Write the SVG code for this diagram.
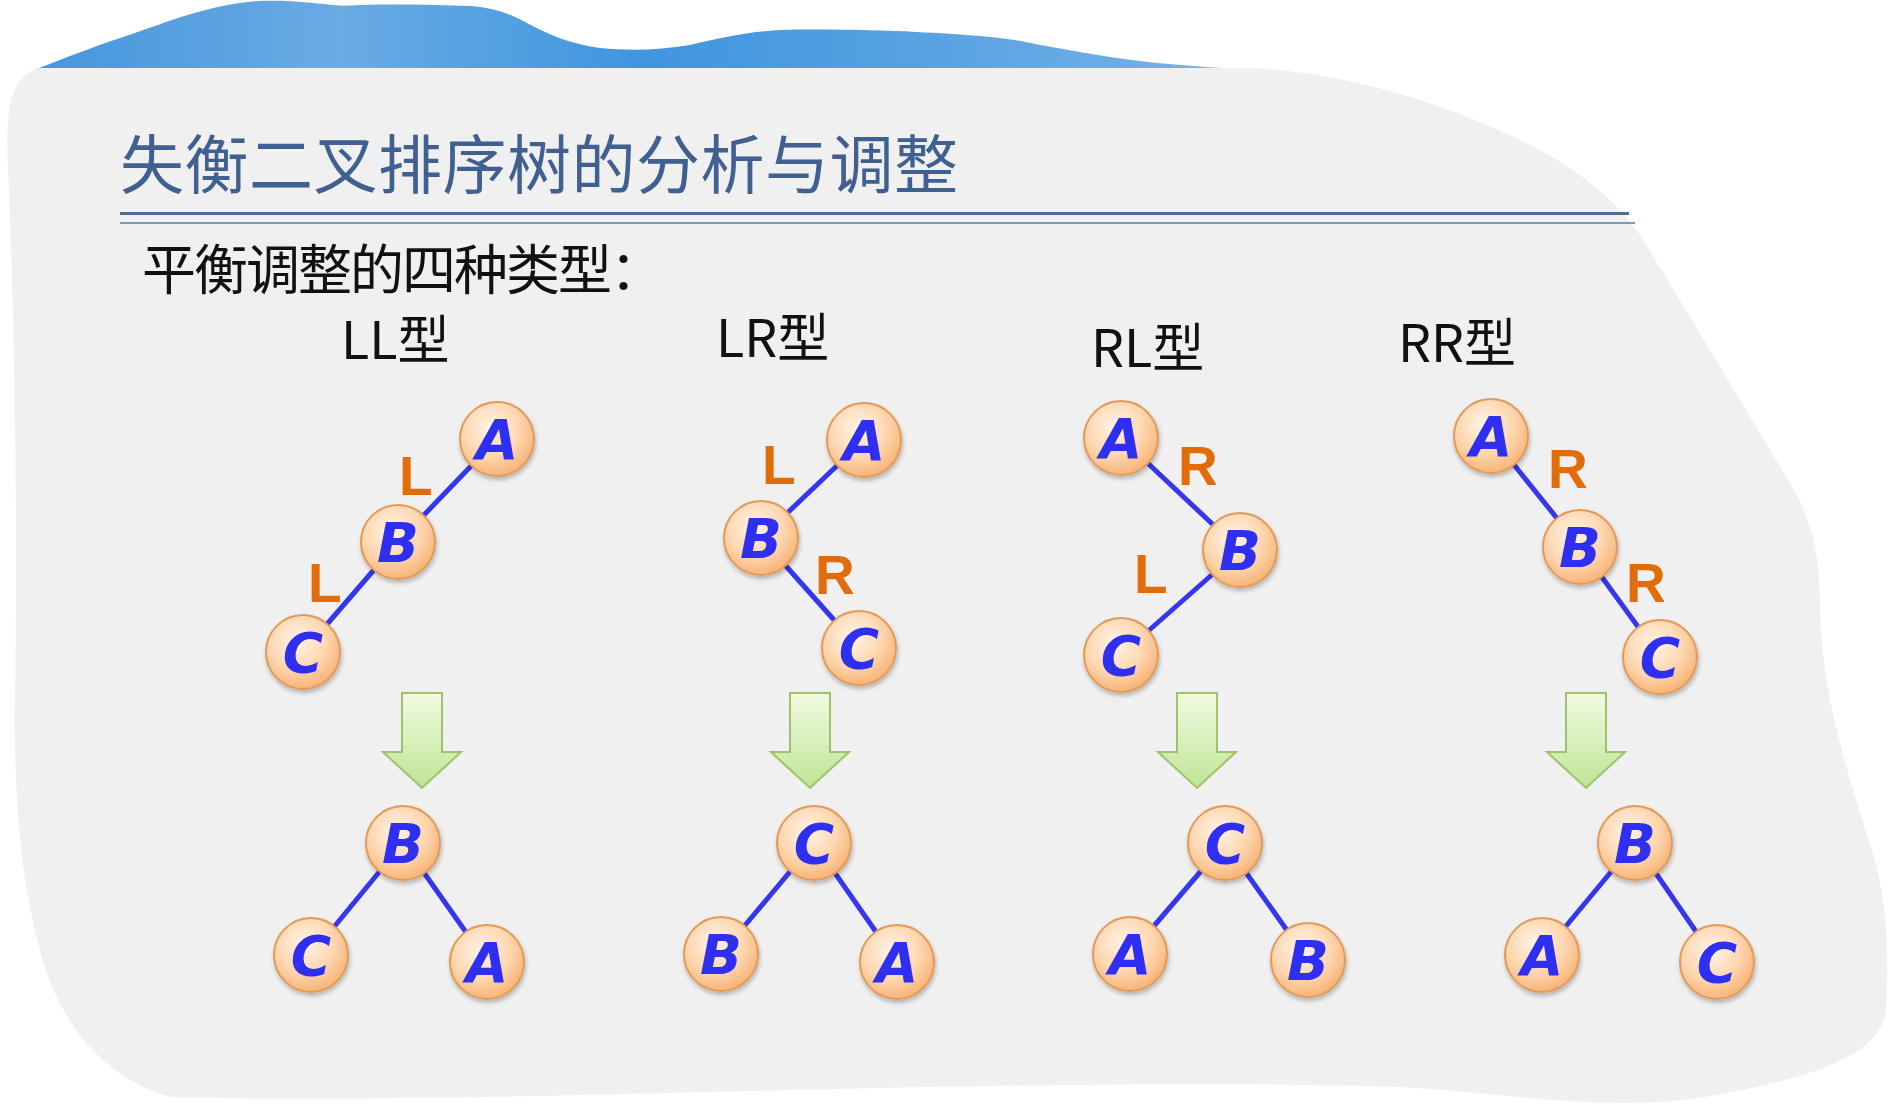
<svg xmlns="http://www.w3.org/2000/svg" width="1889" height="1110" viewBox="0 0 1889 1110">
<defs>
<linearGradient id="wave" x1="0" y1="0" x2="1" y2="0">
<stop offset="0" stop-color="#4595de"/>
<stop offset="0.25" stop-color="#6aabe3"/>
<stop offset="0.5" stop-color="#3f95df"/>
<stop offset="0.75" stop-color="#5aa3e2"/>
<stop offset="1" stop-color="#7ab5e8"/>
</linearGradient>
<radialGradient id="ball" cx="0.42" cy="0.35" r="0.7">
<stop offset="0" stop-color="#fff4e8"/>
<stop offset="0.55" stop-color="#fdd7b0"/>
<stop offset="1" stop-color="#f7ae6e"/>
</radialGradient>
<linearGradient id="green" x1="0" y1="0" x2="0" y2="1">
<stop offset="0" stop-color="#f2fbe2"/>
<stop offset="1" stop-color="#bfe494"/>
</linearGradient>
<filter id="sh" x="-30%" y="-30%" width="160%" height="160%">
<feDropShadow dx="1" dy="3" stdDeviation="2" flood-color="#000" flood-opacity="0.25"/>
</filter>
<path id="arrow" d="M-20,0 h40 v59 h19 L0,95 L-39,59 h19 Z"/>
<style>
.node circle{fill:url(#ball);stroke:#e39a58;stroke-width:2;filter:url(#sh)}
.node text{font-family:"DejaVu Sans","Liberation Sans",sans-serif;font-weight:bold;font-style:italic;font-size:55px;fill:#2f2ff2;text-anchor:middle}
.edge{stroke:#3636ee;stroke-width:5;stroke-linecap:round}
.elabel{font-family:"Liberation Sans",Arial,sans-serif;font-weight:bold;font-size:55px;fill:#e36c0a}
.head{font-family:"Noto Sans CJK SC","Liberation Sans",sans-serif;font-size:52px;fill:#111}
.down{fill:url(#green);stroke:#9dc46b;stroke-width:2}
</style>
</defs>
<rect width="1889" height="1110" fill="#ffffff"/>
<path d="M34,70 C60,60 90,48 120,38 C150,28 165,22 181,17 C210,8 235,2 260,1 C285,0 300,2 325,4 C340,6 345,6 360,5 C400,4 440,5 470,6 C495,8 510,14 525,22 C550,35 570,44 600,48 C630,51 660,50 690,45 C720,38 745,32 780,30 C820,29 880,30 916,32 C980,35 1010,38 1040,45 C1080,52 1110,58 1157,63 C1190,66 1220,68 1255,70 Z" fill="url(#wave)"/>
<path d="M40,68 L1250,68 C1340,72 1440,100 1530,145 C1580,170 1615,200 1640,235 C1680,300 1740,400 1790,483 C1815,525 1820,560 1820,610 C1822,700 1850,780 1872,850 C1888,900 1889,960 1886,1010 C1880,1060 1800,1080 1700,1098 C1600,1112 1500,1092 1400,1087 C1000,1075 500,1106 170,1097 C110,1080 60,1030 40,950 C18,870 14,780 15,700 C18,500 14,300 8,170 C5,110 10,75 40,68 Z" fill="#f0f0f0"/>
<g id="title">
<text x="120" y="188" font-family="'Noto Sans CJK SC','Liberation Sans',sans-serif" font-size="64" fill="#3f6090" textLength="838" lengthAdjust="spacing">失衡二叉排序树的分析与调整</text>
<line x1="120" y1="213.5" x2="1629" y2="213.5" stroke="#4d6d98" stroke-width="3"/>
<line x1="120" y1="223" x2="1635" y2="223" stroke="#7d97b8" stroke-width="2"/>
</g>
<text id="subtitle" x="142" y="290" font-family="'Noto Sans CJK SC','Liberation Sans',sans-serif" font-size="54" fill="#111" textLength="522" lengthAdjust="spacing">平衡调整的四种类型：</text>
<g id="headings">
<text class="head" x="341" y="359">LL型</text>
<text class="head" x="716" y="357">LR型</text>
<text class="head" x="1091" y="367">RL型</text>
<text class="head" x="1398" y="362">RR型</text>
</g>
<g id="arrows">
<use href="#arrow" class="down" x="422" y="693"/>
<use href="#arrow" class="down" x="810" y="693"/>
<use href="#arrow" class="down" x="1197" y="693"/>
<use href="#arrow" class="down" x="1586" y="693"/>
</g>
<g id="connectors">
<line class="edge" x1="497" y1="439" x2="398" y2="542"/>
<line class="edge" x1="398" y1="542" x2="303" y2="652"/>
<line class="edge" x1="864" y1="440" x2="761" y2="538"/>
<line class="edge" x1="761" y1="538" x2="859" y2="648"/>
<line class="edge" x1="1121" y1="438" x2="1240" y2="550"/>
<line class="edge" x1="1240" y1="550" x2="1121" y2="655"/>
<line class="edge" x1="1491" y1="436" x2="1580" y2="547"/>
<line class="edge" x1="1580" y1="547" x2="1660" y2="657"/>
<line class="edge" x1="403" y1="843" x2="311" y2="955"/>
<line class="edge" x1="403" y1="843" x2="487" y2="962"/>
<line class="edge" x1="814" y1="843" x2="721" y2="954"/>
<line class="edge" x1="814" y1="843" x2="897" y2="962"/>
<line class="edge" x1="1225" y1="843" x2="1130" y2="954"/>
<line class="edge" x1="1225" y1="843" x2="1308" y2="960"/>
<line class="edge" x1="1635" y1="843" x2="1542" y2="955"/>
<line class="edge" x1="1635" y1="843" x2="1717" y2="962"/>
<text class="elabel" x="399" y="495">L</text>
<text class="elabel" x="308" y="602">L</text>
<text class="elabel" x="762" y="484">L</text>
<text class="elabel" x="815" y="594">R</text>
<text class="elabel" x="1178" y="485">R</text>
<text class="elabel" x="1134" y="593">L</text>
<text class="elabel" x="1548" y="488">R</text>
<text class="elabel" x="1626" y="602">R</text>
</g>
<g id="ll-A" class="node"><circle cx="497" cy="439" r="37"/><text x="497" y="459">A</text></g>
<g id="ll-B" class="node"><circle cx="398" cy="542" r="37"/><text x="398" y="562">B</text></g>
<g id="ll-C" class="node"><circle cx="303" cy="652" r="37"/><text x="303" y="672">C</text></g>
<g id="lr-A" class="node"><circle cx="864" cy="440" r="37"/><text x="864" y="460">A</text></g>
<g id="lr-B" class="node"><circle cx="761" cy="538" r="37"/><text x="761" y="558">B</text></g>
<g id="lr-C" class="node"><circle cx="859" cy="648" r="37"/><text x="859" y="668">C</text></g>
<g id="rl-A" class="node"><circle cx="1121" cy="438" r="37"/><text x="1121" y="458">A</text></g>
<g id="rl-B" class="node"><circle cx="1240" cy="550" r="37"/><text x="1240" y="570">B</text></g>
<g id="rl-C" class="node"><circle cx="1121" cy="655" r="37"/><text x="1121" y="675">C</text></g>
<g id="rr-A" class="node"><circle cx="1491" cy="436" r="37"/><text x="1491" y="456">A</text></g>
<g id="rr-B" class="node"><circle cx="1580" cy="547" r="37"/><text x="1580" y="567">B</text></g>
<g id="rr-C" class="node"><circle cx="1660" cy="657" r="37"/><text x="1660" y="677">C</text></g>
<g id="ll2-B" class="node"><circle cx="403" cy="843" r="37"/><text x="403" y="863">B</text></g>
<g id="ll2-C" class="node"><circle cx="311" cy="955" r="37"/><text x="311" y="975">C</text></g>
<g id="ll2-A" class="node"><circle cx="487" cy="962" r="37"/><text x="487" y="982">A</text></g>
<g id="lr2-C" class="node"><circle cx="814" cy="843" r="37"/><text x="814" y="863">C</text></g>
<g id="lr2-B" class="node"><circle cx="721" cy="954" r="37"/><text x="721" y="974">B</text></g>
<g id="lr2-A" class="node"><circle cx="897" cy="962" r="37"/><text x="897" y="982">A</text></g>
<g id="rl2-C" class="node"><circle cx="1225" cy="843" r="37"/><text x="1225" y="863">C</text></g>
<g id="rl2-A" class="node"><circle cx="1130" cy="954" r="37"/><text x="1130" y="974">A</text></g>
<g id="rl2-B" class="node"><circle cx="1308" cy="960" r="37"/><text x="1308" y="980">B</text></g>
<g id="rr2-B" class="node"><circle cx="1635" cy="843" r="37"/><text x="1635" y="863">B</text></g>
<g id="rr2-A" class="node"><circle cx="1542" cy="955" r="37"/><text x="1542" y="975">A</text></g>
<g id="rr2-C" class="node"><circle cx="1717" cy="962" r="37"/><text x="1717" y="982">C</text></g>
</svg>
